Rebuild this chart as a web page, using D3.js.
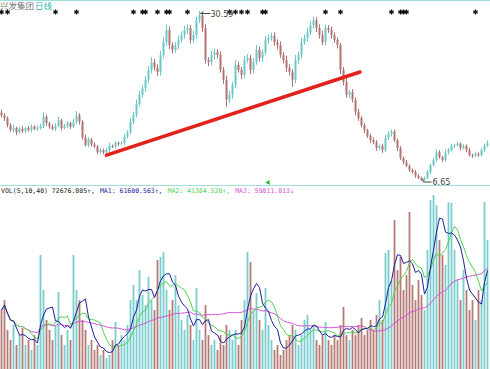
<!DOCTYPE html>
<html lang="zh">
<head>
<meta charset="UTF-8">
<title>兴发集团 日线</title>
<script src="https://d3js.org/d3.v7.min.js"></script>
<style>
  body { margin: 0; background: #fff; }
  svg { display: block; }
</style>
</head>
<body>
<svg width="490" height="369"></svg>
<script>
// daily closes (open of each bar = previous close)
const firstOpen = 16.3;
const closes = [
  15.9,15.5,14.5,13.8,14.1,13.5,14.0,13.7,14.1,13.8,
  14.3,14.0,14.1,14.4,15.7,14.8,14.3,14.0,14.4,15.2,
  14.1,14.4,14.8,14.3,15.0,15.9,15.0,12.8,11.7,12.5,
  11.8,11.5,10.7,11.0,10.7,11.0,11.6,11.5,12.0,11.9,
  12.0,12.9,13.5,15.0,16.0,17.5,18.8,19.7,20.9,22.3,
  23.4,22.6,22.0,24.4,26.2,27.9,25.8,25.1,25.7,26.5,
  27.2,27.9,28.2,26.5,27.2,29.3,30.0,28.2,23.7,23.4,
  24.4,24.8,24.4,22.3,20.9,18.1,18.8,20.2,23.0,22.3,
  21.6,23.7,24.0,22.3,23.4,25.1,24.0,24.8,26.5,26.8,
  27.1,26.2,25.8,24.4,23.7,22.6,22.0,20.9,23.7,24.4,
  26.2,26.8,27.6,28.6,29.3,28.2,27.2,26.2,28.2,27.9,
  27.2,26.5,25.8,22.3,20.6,18.8,19.2,18.1,16.4,15.5,
  14.5,13.8,13.0,12.4,12.1,11.3,11.6,11.0,12.7,13.3,
  13.6,12.4,11.3,9.9,9.3,8.8,8.2,7.9,7.4,7.1,
  6.8,7.1,7.9,8.9,9.6,10.7,10.0,9.6,10.7,11.0,
  11.6,11.7,11.9,11.3,11.6,11.0,10.3,10.2,10.5,10.3,
  11.0,11.6,12.0
];
const wickUp = [
  0.4,0.3,0.2,0.3,0.5,0.2,0.3,0.4,0.2,0.3,
  0.3,0.2,0.4,0.3,0.6,0.3,0.2,0.3,0.4,0.5,
  0.2,0.3,0.3,0.2,0.4,0.6,0.3,0.2,0.4,0.3,
  0.2,0.3,0.2,0.3,0.2,0.3,0.4,0.2,0.3,0.2,
  0.3,0.4,0.3,0.5,0.4,0.6,0.5,0.4,0.5,0.6,
  0.7,0.4,0.5,0.6,0.7,0.8,0.5,0.4,0.5,0.6,
  0.5,0.6,0.5,0.4,0.6,0.5,0.59,0.2,0.5,0.4,
  0.6,0.5,0.4,0.5,0.4,0.6,0.5,0.4,0.7,0.5,
  0.4,0.6,0.5,0.4,0.6,0.7,0.5,0.4,0.6,0.5,
  0.4,0.5,0.4,0.5,0.4,0.6,0.5,0.4,0.7,0.5,
  0.6,0.5,0.6,0.5,0.5,0.4,0.5,0.6,0.5,0.4,
  0.5,0.4,0.4,0.3,0.4,0.5,0.3,0.4,0.3,0.4,
  0.3,0.3,0.2,0.3,0.4,0.3,0.2,0.3,0.5,0.4,
  0.3,0.3,0.2,0.3,0.2,0.3,0.2,0.2,0.3,0.2,
  0.15,0.2,0.3,0.2,0.3,0.4,0.3,0.2,0.4,0.3,
  0.3,0.2,0.3,0.2,0.3,0.2,0.3,0.2,0.3,0.2,
  0.3,0.3,0.4
];
const wickDn = [
  0.3,0.4,0.3,0.2,0.3,0.4,0.2,0.3,0.3,0.2,
  0.3,0.2,0.3,0.2,0.3,0.4,0.3,0.2,0.3,0.2,
  0.3,0.2,0.3,0.3,0.2,0.3,0.4,0.3,0.2,0.3,
  0.3,0.2,0.3,0.2,0.3,0.2,0.3,0.2,0.2,0.3,
  0.2,0.3,0.2,0.3,0.3,0.4,0.3,0.4,0.5,0.4,
  0.5,0.4,0.6,0.5,0.4,0.5,0.6,0.5,0.4,0.5,
  0.4,0.5,0.6,0.5,0.4,0.5,0.4,0.6,0.5,0.6,
  0.5,0.6,0.5,0.4,0.6,1.0,0.5,0.6,0.5,0.4,
  0.6,0.5,0.4,0.6,0.5,0.4,0.5,0.6,0.4,0.5,
  0.4,0.5,0.6,0.4,0.5,0.6,0.5,1.0,0.5,0.6,
  0.5,0.4,0.5,0.4,0.5,0.6,0.5,0.4,0.5,0.4,
  0.5,0.4,0.5,0.6,0.5,0.4,0.5,0.4,0.5,0.4,
  0.3,0.4,0.3,0.4,0.3,0.4,0.3,0.4,0.3,0.3,
  0.4,0.3,0.4,0.3,0.3,0.2,0.3,0.2,0.3,0.2,
  0.15,0.1,0.2,0.3,0.2,0.3,0.2,0.3,0.2,0.3,
  0.2,0.3,0.2,0.3,0.2,0.3,0.2,0.3,0.2,0.3,
  0.2,0.3,0.2
];
const volumes = [
  33200,38800,22000,16300,24800,13500,19100,23100,13500,16300,
  10700,19100,13500,64200,44500,27600,22000,16300,24800,43400,
  19100,13500,22000,16300,64200,44500,38800,27600,22000,13500,
  16300,10700,13500,7900,10700,6200,7900,16300,26500,13500,
  19100,16300,24800,38800,47300,38800,55700,41700,36000,51800,
  38800,33200,61400,63100,65900,44500,33200,38800,52900,36000,
  27600,22000,30400,24800,16300,45600,22000,16300,36000,19100,
  13500,16300,10700,19100,13500,24800,22000,16300,22000,13500,
  27600,38800,65900,60200,33200,42800,27600,22000,45600,24800,
  16300,10700,13500,7900,10700,16300,19100,24800,22000,13500,
  19100,27600,30400,22000,24800,16300,13500,19100,26500,16300,
  13500,19100,16300,24800,34900,19100,16300,22000,19100,24800,
  28700,19100,22000,27600,22000,30400,38800,27600,65300,67000,
  50100,83900,55700,63100,44500,52900,88400,47300,38800,50100,
  41700,33200,67000,95100,98000,92300,72600,64200,58600,94000,
  93500,67000,50100,38800,55700,44500,33200,38800,27600,44500,
  38800,94000,72677
];
// signal markers in the top row (bar indices)
const markIdx = [0,2,18,25,44,47,48,52,55,56,62,76,78,80,82,87,88,108,113,130,133,134,135,158];
// hand-drawn trend line (bar index, price)
const trend = [{i: 35, p: 10.3}, {i: 119.5, p: 22.0}];
const cursorIdx = 89;
const maPeriods = [5, 10, 40];
const legendLabels = ["VOL(5,10,40)", "MA1:", "MA2:", "MA3:"];
const legendValues = ["72676.805↑,", "61600.563↑,", "41384.520↑,", "59811.813↓"];

const svg = d3.select("svg");
const W = 490;
const UP = "#6cc8c8", DOWN = "#b27272";

const data = closes.map((c, i) => {
  const o = i ? closes[i - 1] : firstOpen;
  return { i, o, c, h: Math.max(o, c) + wickUp[i], l: Math.min(o, c) - wickDn[i], v: volumes[i] };
});

const x = d3.scaleLinear().domain([0, data.length - 1]).range([1.5, 487.5]);
const yP = d3.scaleLinear().domain([d3.min(data, d => d.l), d3.max(data, d => d.h)]).range([181, 11]);
const yV = d3.scaleLinear().domain([0, d3.max(volumes)]).range([369, 195]);

// frame lines
svg.append("line").attr("x1", 0).attr("x2", W).attr("y1", 0.5).attr("y2", 0.5)
  .attr("stroke", "#9ee0e0");
svg.append("line").attr("x1", 0).attr("x2", W).attr("y1", 185.5).attr("y2", 185.5)
  .attr("stroke", "#9ee0e0");

// title
const title = svg.append("text").attr("x", 0).attr("y", 8.5)
  .style("font-family", "'Noto Sans CJK SC'").style("font-size", "8.5px");
title.append("tspan").attr("fill", "#777").text("兴发集团");
title.append("tspan").attr("fill", "#2fb3b3").attr("dx", 1).text("日线");

// candles
const cg = svg.append("g");
cg.selectAll("line").data(data).join("line")
  .attr("x1", d => x(d.i)).attr("x2", d => x(d.i))
  .attr("y1", d => yP(d.h)).attr("y2", d => yP(d.l))
  .attr("stroke", d => d.c >= d.o ? UP : DOWN).attr("stroke-width", 1);
cg.selectAll("rect").data(data).join("rect")
  .attr("x", d => x(d.i) - 1).attr("width", 2)
  .attr("y", d => yP(Math.max(d.o, d.c)))
  .attr("height", d => Math.max(1, Math.abs(yP(d.o) - yP(d.c))))
  .attr("fill", d => d.c >= d.o ? UP : DOWN);

// markers
svg.append("g").selectAll("path").data(markIdx).join("path")
  .attr("transform", d => `translate(${x(d)},12)`)
  .attr("d", d3.symbol(d3.symbolAsterisk, 18))
  .attr("fill", "none").attr("stroke", "#111").attr("stroke-width", 1.3);

// high / low labels
const hiBar = data.reduce((a, b) => b.h > a.h ? b : a);
const loBar = data.reduce((a, b) => b.l < a.l ? b : a);
const lab = svg.append("g").style("font-family", "'DejaVu Sans'").style("font-size", "8px").attr("fill", "#444");
lab.append("path").attr("stroke", "#444").attr("fill", "none")
  .attr("d", `M${x(hiBar.i) + 4},${yP(hiBar.h) + 0.5}L${x(hiBar.i) + 1},${yP(hiBar.h) + 2.5}L${x(hiBar.i) + 11},${yP(hiBar.h) + 2.5}`);
lab.append("text").attr("x", x(hiBar.i) + 11).attr("y", yP(hiBar.h) + 5.5).text(d3.format(".2f")(hiBar.h));
lab.append("path").attr("stroke", "#444").attr("fill", "none")
  .attr("d", `M${x(loBar.i) + 1},${yP(loBar.l) - 2}L${x(loBar.i) + 2},${yP(loBar.l) + 1}L${x(loBar.i) + 10},${yP(loBar.l) + 1}`);
lab.append("text").attr("x", x(loBar.i) + 11).attr("y", yP(loBar.l) + 3.5).text(d3.format(".2f")(loBar.l));

// trend line
svg.append("line")
  .attr("x1", x(trend[0].i)).attr("y1", yP(trend[0].p))
  .attr("x2", x(trend[1].i)).attr("y2", yP(trend[1].p))
  .attr("stroke", "#e3211c").attr("stroke-width", 3.5).attr("stroke-linecap", "round");

// cursor triangle
const cx = x(cursorIdx);
svg.append("path").attr("d", `M${cx - 3},182.5L${cx + 1},180L${cx + 1},185Z`).attr("fill", "#22b822");

// volume bars
svg.append("g").selectAll("rect").data(data).join("rect")
  .attr("x", d => x(d.i) - 0.9).attr("width", 1.8)
  .attr("y", d => yV(d.v)).attr("height", d => 369 - yV(d.v))
  .attr("fill", d => d.c >= d.o ? "#78cccc" : "#b57a76");

// moving averages of volume
const maColors = ["#1d1d9e", "#4fd24f", "#d653d6"];
const ma = n => volumes.map((v, i) => d3.mean(volumes.slice(Math.max(0, i - n + 1), i + 1)));
const line = d3.line().x((d, i) => x(i)).y(d => yV(d));
maPeriods.slice().reverse().forEach((n, k) => {
  const idx = maPeriods.length - 1 - k;
  svg.append("path").datum(ma(n)).attr("d", line)
    .attr("fill", "none").attr("stroke", maColors[idx]).attr("stroke-width", 1);
});

// volume legend
const legColors = ["#222", maColors[0], maColors[1], maColors[2]];
const leg = svg.append("g").style("font-family", "'DejaVu Sans Mono'").style("font-size", "6.5px");
let lx = 1;
legendLabels.forEach((name, k) => {
  const t = leg.append("text").attr("x", lx).attr("y", 192.5).attr("fill", legColors[k])
    .text(name + " " + legendValues[k]);
  lx += t.node().getComputedTextLength() + 5;
});
</script>
</body>
</html>
